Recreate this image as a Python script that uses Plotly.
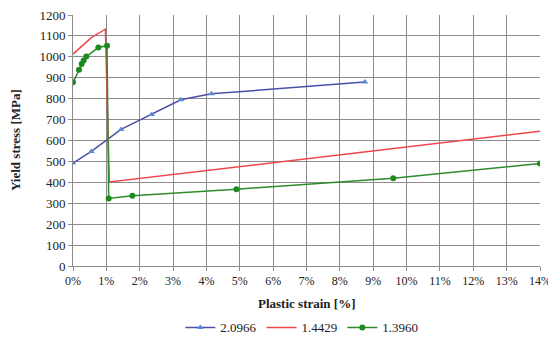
import plotly.graph_objects as go

# Series 2.0966 (blue)
blue_x = [0.0, 0.55, 1.44, 2.36, 3.23, 4.15, 8.75]
blue_y = [492, 548, 653, 724, 795, 823, 880]

# Series 1.4429 (red)
red_x = [0.0, 0.25, 0.55, 0.97, 0.97, 1.09, 14.0]
red_y = [1013, 1050, 1092, 1132, 1132, 402, 644]

# Series 1.3960 (green)
green_x = [0.0, 0.18, 0.26, 0.32, 0.40, 0.76, 1.02, 1.07, 1.78, 4.9, 9.6, 14.0]
green_y = [878, 938, 966, 982, 1001, 1045, 1053, 323, 336, 367, 420, 490]

x_ticks = list(range(0, 15))
y_ticks = list(range(0, 1201, 100))

font_fam = "Liberation Serif, serif"

fig = go.Figure()
fig.add_trace(go.Scatter(x=blue_x, y=blue_y, mode="lines+markers", name="2.0966",
                         line=dict(color="#4B4FA8", width=1.5),
                         marker=dict(symbol="triangle-up", size=6, color="#5B8BD6")))
fig.add_trace(go.Scatter(x=red_x, y=red_y, mode="lines", name="1.4429",
                         line=dict(color="#F0474C", width=1.5)))
fig.add_trace(go.Scatter(x=green_x, y=green_y, mode="lines+markers", name="1.3960",
                         line=dict(color="#2E8B2E", width=1.5),
                         marker=dict(symbol="circle", size=6, color="#1E8A1E")))

# The page body adds an 8px offset, so the figure is 8px smaller than the window.
fig.update_layout(
    width=548, height=337,
    margin=dict(l=65, r=16, t=7, b=78.5, autoexpand=False),
    plot_bgcolor="white", paper_bgcolor="white",
    font=dict(family=font_fam, size=13, color="#222"),
    showlegend=True,
    legend=dict(orientation="h", x=0.49, xanchor="center", y=-0.185, yanchor="top",
                font=dict(size=13, family=font_fam), itemwidth=30, tracegroupgap=0),
    xaxis=dict(range=[0, 14], tickvals=x_ticks, ticktext=[f"{v}%" for v in x_ticks],
               showgrid=True, gridcolor="#8c8c8c", gridwidth=1,
               showline=True, linecolor="#8c8c8c", ticks="outside", ticklen=4,
               tickcolor="#8c8c8c", zeroline=False, fixedrange=True, automargin=False,
               ticklabeloverflow="allow",
               tickfont=dict(family=font_fam, size=12)),
    yaxis=dict(range=[0, 1200], tickvals=y_ticks,
               showgrid=True, gridcolor="#8c8c8c", gridwidth=1,
               showline=True, linecolor="#8c8c8c", ticks="outside", ticklen=4,
               tickcolor="#8c8c8c", zeroline=False, fixedrange=True, automargin=False,
               ticklabeloverflow="allow",
               tickfont=dict(family=font_fam, size=13)),
    annotations=[
        dict(text="<b>Plastic strain [%]</b>", xref="paper", yref="paper",
             x=0.5, y=-0.15, xanchor="center", yanchor="middle", showarrow=False,
             font=dict(size=13, family=font_fam, color="#222")),
        dict(text="<b>Yield stress [MPa]</b>", xref="paper", yref="paper",
             x=-0.123, y=0.5, xanchor="center", yanchor="middle", showarrow=False,
             textangle=-90, font=dict(size=13, family=font_fam, color="#222")),
    ],
)

fig.write_html("out.html")
